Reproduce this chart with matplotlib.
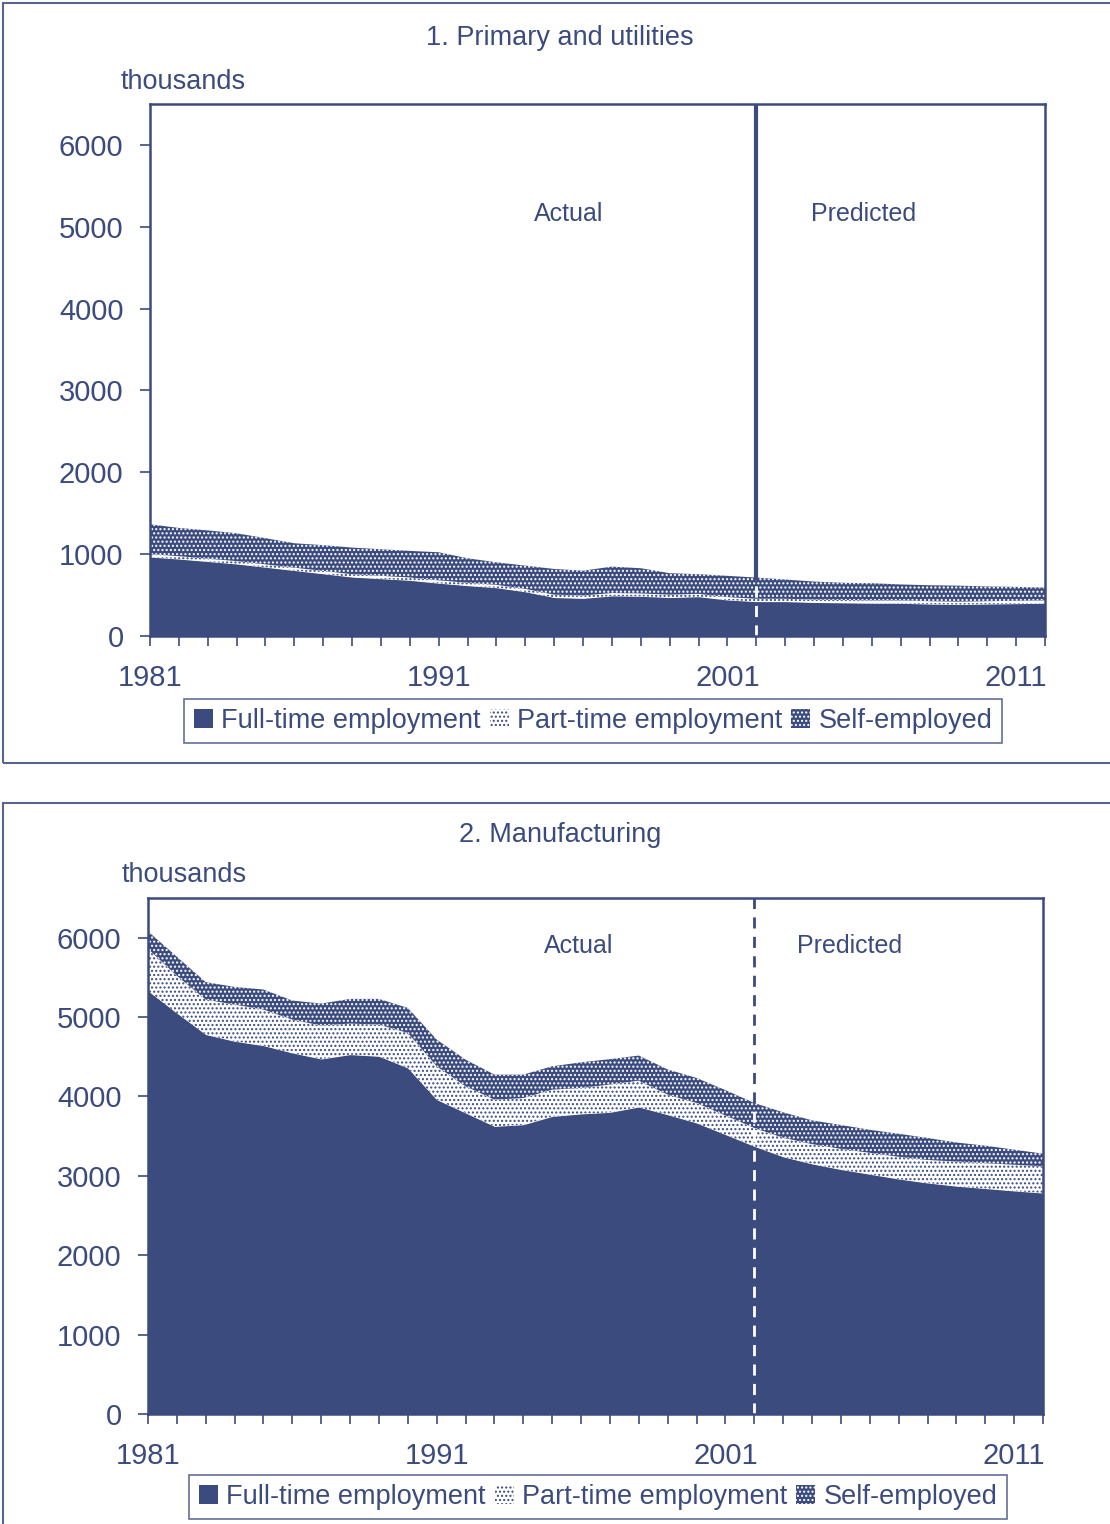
import matplotlib
matplotlib.use("Agg")
import matplotlib.pyplot as plt
import numpy as np
from matplotlib.patches import Patch, Rectangle

plt.rcParams['font.family'] = ['Liberation Sans', 'DejaVu Sans']
plt.rcParams['hatch.linewidth'] = 1.0

navy = '#3b4b7e'

years = np.arange(1981, 2013)
split_year = 2002

# 1. Primary and utilities (thousands)
prim_full = [965, 940, 910, 880, 840, 800, 760, 720, 700, 680, 645, 615, 590, 540, 470, 460,
             490, 485, 470, 480, 440, 420, 420, 410, 405, 400, 400, 390, 385, 390, 395, 400]
prim_part = [35] * 32
prim_self = [365, 345, 345, 340, 320, 298, 315, 325, 325, 325, 343, 300, 275, 285, 314, 303,
             323, 308, 262, 240, 260, 259, 235, 220, 210, 210, 195, 195, 195, 180, 170, 156]

# 2. Manufacturing (thousands)
manu_full = [5330, 5050, 4780, 4695, 4640, 4548, 4472, 4527, 4506, 4359, 3960, 3792, 3623, 3644, 3749, 3780,
             3800, 3867, 3770, 3666, 3520, 3372, 3240, 3150, 3080, 3020, 2960, 2910, 2870, 2840, 2810, 2783]
manu_part = [530, 470, 440, 462, 455, 420, 421, 391, 399, 441, 420, 336, 337, 336, 337, 327,
             350, 332, 253, 252, 240, 231, 240, 250, 260, 270, 280, 290, 310, 320, 330, 337]
manu_self = [220, 240, 220, 223, 252, 240, 277, 311, 324, 315, 336, 336, 315, 295, 294, 323,
             320, 316, 317, 315, 320, 315, 320, 299, 300, 290, 290, 277, 240, 220, 190, 159]

labels = ['Full-time employment', 'Part-time employment', 'Self-employed']
xlabels = {1981: '1981', 1991: '1991', 2001: '2001', 2011: '2011'}

W, H = 1110, 1524
fig = plt.figure(figsize=(W / 100, H / 100), dpi=100)


def box(l, t, r, b):
    return [l / W, 1 - b / H, (r - l) / W, (b - t) / H]


def panel(rect, title, tpos, thpos, full, part, self_, solid_top, txt_y, act_x, pred_x, leg_pos):
    ax = fig.add_axes(rect)
    full = np.array(full)
    part = np.array(part)
    self_ = np.array(self_)
    c1 = full
    c2 = full + part
    c3 = full + part + self_
    ax.fill_between(years, 0, c1, facecolor=navy, edgecolor=navy, lw=0, zorder=2)
    ax.fill_between(years, c1, c2, facecolor='white', edgecolor=navy, hatch='....', lw=0, zorder=2)
    ax.fill_between(years, c2, c3, facecolor=navy, edgecolor='white', hatch='....', lw=0, zorder=2)
    top = c3[years == split_year][0]
    ax.plot([split_year, split_year], [0, top], color='white', lw=2, ls=(0, (4, 3)), zorder=3)
    if solid_top:
        ax.plot([split_year, split_year], [top, 6500], color=navy, lw=3, zorder=3)
    else:
        ax.plot([split_year, split_year], [top, 6500], color=navy, lw=2, ls=(0, (4, 3)), zorder=3)
    ax.set_xlim(1981, 2012)
    ax.set_ylim(0, 6500)
    ax.set_yticks(range(0, 7000, 1000))
    ax.set_xticks(years)
    ax.set_xticklabels([xlabels.get(y, '') for y in years])
    ax.tick_params(axis='y', direction='out', length=7, width=1.2, color=navy, labelcolor=navy,
                   labelsize=21, pad=12)
    ax.tick_params(axis='x', direction='out', length=7, width=1.2, color=navy, labelcolor=navy,
                   labelsize=21, pad=13)
    for s in ax.spines.values():
        s.set_color(navy)
        s.set_linewidth(1.8)
        s.set_zorder(4)
    ax.text(act_x, txt_y, 'Actual', color=navy, fontsize=18, ha='center', va='center')
    ax.text(pred_x, txt_y, 'Predicted', color=navy, fontsize=18, ha='center', va='center')
    fig.text(tpos[0] / W, 1 - tpos[1] / H, title, color=navy, fontsize=19.5, ha='center', va='center')
    fig.text(thpos[0] / W, 1 - thpos[1] / H, 'thousands', color=navy, fontsize=19.5, ha='left', va='center')
    handles = [Patch(facecolor=navy, edgecolor=navy, lw=0),
               Patch(facecolor='white', edgecolor=navy, hatch='....', lw=0),
               Patch(facecolor=navy, edgecolor='white', hatch='....', lw=0)]
    leg = fig.legend(handles, labels, loc='center', bbox_to_anchor=(leg_pos[0] / W, 1 - leg_pos[1] / H),
                     ncol=3, fontsize=19.5, frameon=True, fancybox=False, handlelength=0.7,
                     handleheight=0.7, handletextpad=0.3, columnspacing=0.35, borderpad=0.35,
                     labelcolor=navy)
    leg.get_frame().set_edgecolor(navy)
    leg.get_frame().set_linewidth(1.2)
    return ax


# outer frames
fig.patches.append(Rectangle((3 / W, 1 - 763 / H), 1.2, 760 / H, transform=fig.transFigure,
                             fill=False, edgecolor='#56648e', lw=1.5))
fig.patches.append(Rectangle((3 / W, -0.1), 1.2, 0.1 + 721 / H, transform=fig.transFigure,
                             fill=False, edgecolor='#56648e', lw=1.5))

panel(box(150, 104, 1045, 636), '1. Primary and utilities', (560, 38), (121, 82),
      prim_full, prim_part, prim_self, True, 5160, 1995.5, 2005.7, (593, 721))
panel(box(148, 898, 1043, 1414), '2. Manufacturing', (560, 835), (122, 875),
      manu_full, manu_part, manu_self, False, 5900, 1995.9, 2005.3, (598, 1497))

fig.savefig('out.png', dpi=100)
